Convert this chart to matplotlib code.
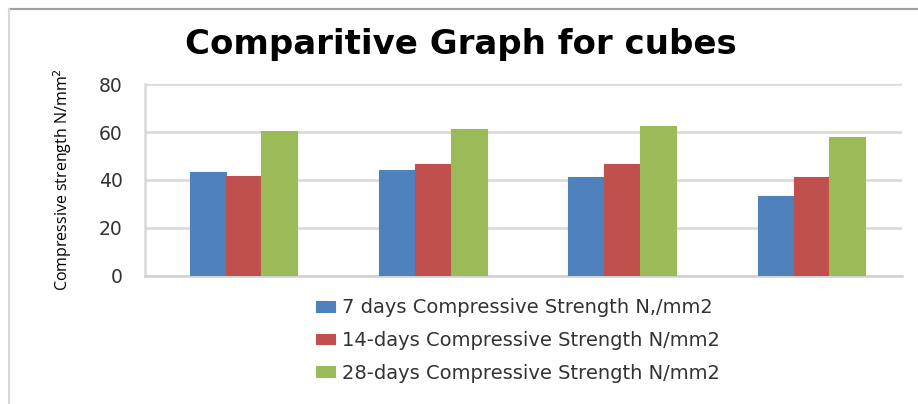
import matplotlib.pyplot as plt
import numpy as np
from matplotlib.lines import Line2D

categories = ['Cube 1', 'Cube 2', 'Cube 3', 'Cube 4']
days7 = [43.5, 44.2, 41.1, 33.5]
days14 = [41.7, 46.7, 46.7, 41.1]
days28 = [60.4, 61.3, 62.6, 57.8]
labels = ['7 days Compressive Strength N,/mm2',
          '14-days Compressive Strength N/mm2',
          '28-days Compressive Strength N/mm2']
colors = ['#4F81BD', '#C0504D', '#9BBB59']

plt.rcParams['font.family'] = ['DejaVu Sans']

fig = plt.figure(figsize=(9.18, 4.04), dpi=100)
ax = fig.add_axes([0.158, 0.317, 0.825, 0.475])

x = np.arange(len(categories))
w = 0.19
for i, (vals, lab, c) in enumerate(zip([days7, days14, days28], labels, colors)):
    ax.bar(x + (i - 1) * w + 0.02, vals, width=w, color=c, label=lab,
           edgecolor=c, linewidth=0.8, zorder=3)

ax.set_xlim(-0.5, 3.5)
ax.set_ylim(0, 80)
ax.set_yticks([0, 20, 40, 60, 80])
ax.set_xticks([])
ax.yaxis.grid(True, color='#D9D9D9', linewidth=1.8, zorder=0)
ax.tick_params(axis='y', length=0, pad=16, labelsize=13.5, labelcolor='#333333')
for s in ['top', 'right']:
    ax.spines[s].set_visible(False)
ax.spines['left'].set_color('#D9D9D9')
ax.spines['left'].set_linewidth(1.8)
ax.spines['bottom'].set_color('#D0D0D0')
ax.spines['bottom'].set_linewidth(1.8)

ax.set_ylabel('Compressive strength N/mm$^2$', fontsize=11.5, labelpad=18,
              family='Open Sans')

fig.text(0.502, 0.89, 'Comparitive Graph for cubes', ha='center', va='center',
         fontsize=24.5, fontweight='bold')

fig.legend(loc='upper left', bbox_to_anchor=(0.325, 0.305), frameon=False,
           fontsize=14, handlelength=1.0, handleheight=0.45,
           handletextpad=0.35, labelspacing=0.7, labelcolor='#333333')

# outer frame (top and left edges)
fig.add_artist(Line2D([9 / 918, 1], [1 - 9 / 404, 1 - 9 / 404],
                      transform=fig.transFigure, color='#A0A0A0', linewidth=1.5))
fig.add_artist(Line2D([9 / 918, 9 / 918], [0, 1 - 9 / 404],
                      transform=fig.transFigure, color='#D9D9D9', linewidth=1.5))

fig.savefig('out.png', dpi=100)
